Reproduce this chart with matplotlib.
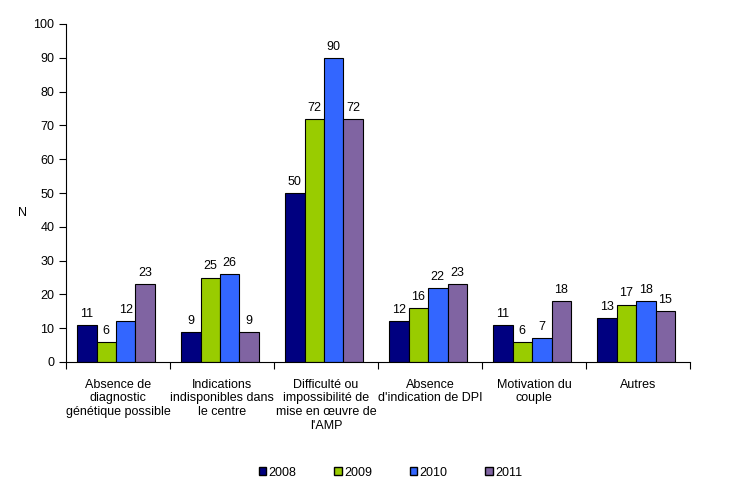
import numpy as np
import matplotlib.pyplot as plt
from matplotlib.patches import Patch

plt.rcParams['font.family'] = ['Liberation Sans', 'DejaVu Sans']
plt.rcParams['font.size'] = 9

categories = ["Absence de\ndiagnostic\ngénétique possible",
              "Indications\nindisponibles dans\nle centre",
              "Difficulté ou\nimpossibilité de\nmise en œuvre de\nl'AMP",
              "Absence\nd'indication de DPI",
              "Motivation du\ncouple",
              "Autres"]
years = ["2008", "2009", "2010", "2011"]
v2008 = [11, 9, 50, 12, 11, 13]
v2009 = [6, 25, 72, 16, 6, 17]
v2010 = [12, 26, 90, 22, 7, 18]
v2011 = [23, 9, 72, 23, 18, 15]
series = [v2008, v2009, v2010, v2011]
colors = ["#000080", "#99CC00", "#3366FF", "#8064A2"]

fig = plt.figure(figsize=(7.51, 5.0), dpi=100)
ax = fig.add_axes([0.088, 0.276, 0.831, 0.676])

x = np.arange(len(categories))
w = 0.187
for i, vals in enumerate(series):
    pos = x + (i - 1.5) * w - 0.02
    bars = ax.bar(pos, vals, w, color=colors[i], edgecolor='black', linewidth=0.8)
    for b, v in zip(bars, vals):
        ax.text(b.get_x() + b.get_width() / 2, v + 1.5, str(v),
                ha='center', va='bottom', fontsize=9)

ax.set_xlim(-0.5, len(categories) - 0.5)
ax.set_ylim(0, 100)
ax.set_yticks(np.arange(0, 101, 10))
ax.set_xticks(np.arange(-0.5, len(categories), 1.0))
ax.set_xticklabels([])
ax.set_xticks(x, minor=True)
ax.set_xticklabels(categories, minor=True, fontsize=9)
ax.tick_params(axis='x', which='minor', length=0, pad=12)
ax.tick_params(axis='x', which='major', length=5, direction='out')
ax.tick_params(axis='y', length=5, direction='out')
ax.spines['top'].set_visible(False)
ax.spines['right'].set_visible(False)
ax.set_ylabel("N", rotation=0, va='center')
ax.yaxis.set_label_coords(-0.07, 0.44)

handles = [Patch(facecolor=c, edgecolor='black', label=y) for c, y in zip(colors, years)]
fig.legend(handles=handles, loc='center', bbox_to_anchor=(0.52, 0.055), ncol=4,
           frameon=False, handlelength=0.6, handleheight=0.6, handletextpad=0.2,
           columnspacing=3.0, fontsize=9)

fig.savefig("out.png", dpi=100)
